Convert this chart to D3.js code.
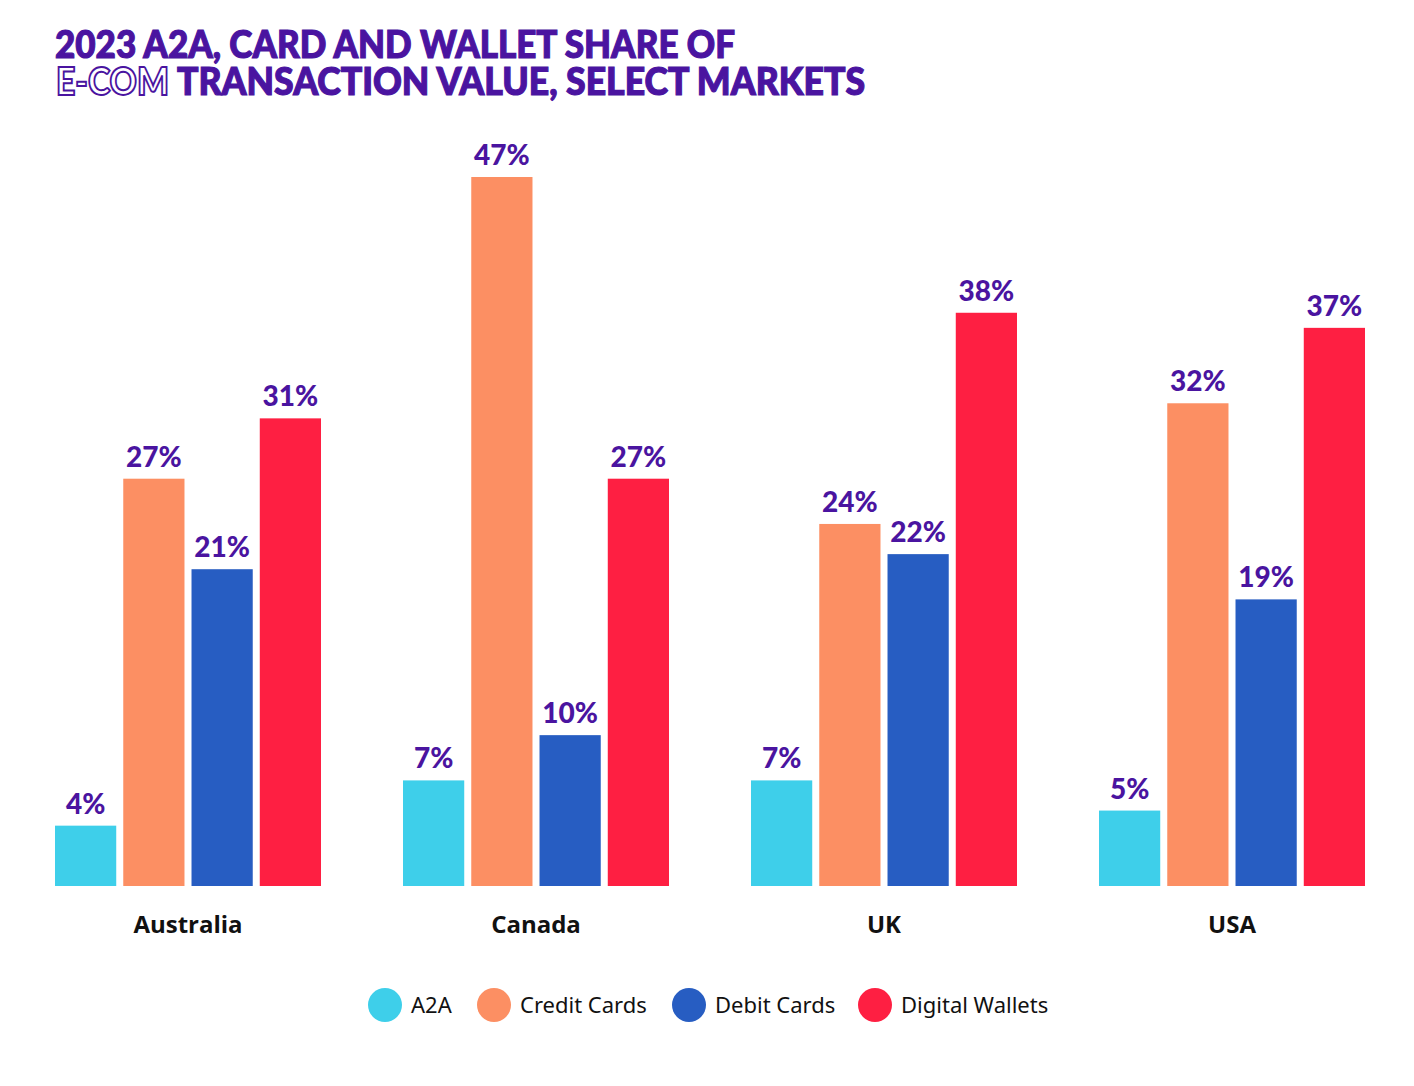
<!DOCTYPE html>
<html><head><meta charset="utf-8">
<script src="https://cdn.jsdelivr.net/npm/d3@7"></script>
<style>body{margin:0;background:#fff}svg{display:block}</style>
</head><body>
<script>
const markets = ["Australia", "Canada", "UK", "USA"];
const seriesNames = ["A2A", "Credit Cards", "Debit Cards", "Digital Wallets"];
const a2a = [4, 7, 7, 5];
const creditCards = [27, 47, 24, 32];
const debitCards = [21, 10, 22, 19];
const digitalWallets = [31, 27, 38, 37];
const colors = ["#3ECFEA", "#FC8F63", "#275DC2", "#FE1F42"];
const purple = "#4A14A0";

const seriesValues = [a2a, creditCards, debitCards, digitalWallets];
const W = 1414, H = 1086;
const svg = d3.select("body").append("svg").attr("width", W).attr("height", H);

// Title
const tf = "Lato, 'DejaVu Sans', sans-serif";
svg.append("text").attr("x", 55).attr("y", 58).attr("font-family", tf).attr("font-weight", 900)
  .attr("font-size", 38).attr("fill", purple).attr("stroke", purple).attr("stroke-width", 1.2)
  .attr("textLength", 680).attr("lengthAdjust", "spacingAndGlyphs")
  .text("2023 A2A, CARD AND WALLET SHARE OF");
svg.append("text").attr("x", 56).attr("y", 95).attr("font-family", tf).attr("font-weight", 900)
  .attr("font-size", 38).attr("fill", "#fff").attr("stroke", purple).attr("stroke-width", 2)
  .attr("textLength", 113).attr("lengthAdjust", "spacingAndGlyphs").text("E-COM");
svg.append("text").attr("x", 177).attr("y", 95).attr("font-family", tf).attr("font-weight", 900)
  .attr("font-size", 38).attr("fill", purple).attr("stroke", purple).attr("stroke-width", 1.2)
  .attr("textLength", 688).attr("lengthAdjust", "spacingAndGlyphs")
  .text("TRANSACTION VALUE, SELECT MARKETS");

// Scales
const x0 = d3.scaleBand().domain(markets).range([55, 1365]).paddingInner(82/348).paddingOuter(0);
const x1 = d3.scaleBand().domain(seriesNames).range([0, x0.bandwidth()]).paddingInner(7/68).paddingOuter(0);
const y = d3.scaleLinear().domain([0, 47]).range([886, 177]);

const data = [];
markets.forEach((m, i) => seriesNames.forEach((s, j) => data.push({m, s, j, v: seriesValues[j][i]})));

const g = svg.append("g");
g.selectAll("rect").data(data).join("rect")
  .attr("x", d => x0(d.m) + x1(d.s))
  .attr("y", d => y(d.v))
  .attr("width", x1.bandwidth())
  .attr("height", d => y(0) - y(d.v))
  .attr("fill", d => colors[d.j]);

g.selectAll("text.val").data(data).join("text").attr("class", "val")
  .attr("x", d => x0(d.m) + x1(d.s) + x1.bandwidth() / 2)
  .attr("y", d => y(d.v) - 12)
  .attr("text-anchor", "middle")
  .attr("font-family", tf).attr("font-weight", 900).attr("font-size", 28)
  .attr("fill", purple)
  .text(d => d.v + "%");

// Category axis labels
const xAxis = d3.axisBottom(x0).tickSize(0).tickPadding(0);
const ax = svg.append("g").attr("transform", "translate(0,914)").call(xAxis);
ax.select(".domain").remove();
ax.selectAll("text").attr("font-family", "'Open Sans', sans-serif").attr("font-weight", 700)
  .attr("font-size", 24).attr("fill", "#111").attr("dy", "0.8em");

// Legend
const legendX = [385, 494, 689, 875];
const lg = svg.append("g").selectAll("g").data(seriesNames).join("g")
  .attr("transform", (d, i) => `translate(${legendX[i]},1005)`);
lg.append("circle").attr("r", 17).attr("fill", (d, i) => colors[i]);
lg.append("text").attr("x", 26).attr("y", 8)
  .attr("font-family", "'Source Sans Pro', 'Noto Sans', sans-serif").attr("font-size", 22)
  .attr("fill", "#111").text(d => d);
</script>
</body></html>
